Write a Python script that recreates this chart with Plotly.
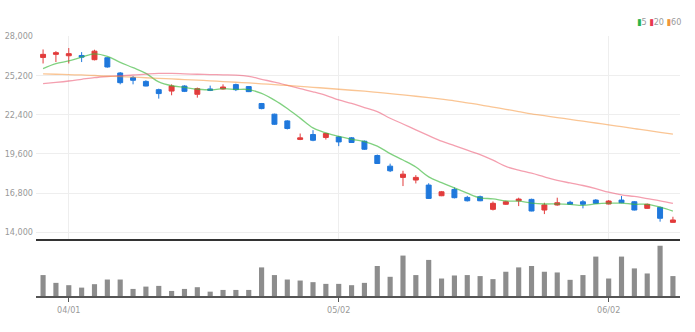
import plotly.graph_objects as go
from plotly.subplots import make_subplots

dates = [
    "2022-03-30", "2022-03-31",
    "2022-04-01", "2022-04-04", "2022-04-05", "2022-04-06", "2022-04-07", "2022-04-08",
    "2022-04-11", "2022-04-12", "2022-04-13", "2022-04-14", "2022-04-15",
    "2022-04-18", "2022-04-19", "2022-04-20", "2022-04-21", "2022-04-22",
    "2022-04-25", "2022-04-26", "2022-04-27", "2022-04-28", "2022-04-29",
    "2022-05-02", "2022-05-03", "2022-05-04", "2022-05-06",
    "2022-05-09", "2022-05-10", "2022-05-11", "2022-05-12", "2022-05-13",
    "2022-05-16", "2022-05-17", "2022-05-18", "2022-05-19", "2022-05-20",
    "2022-05-23", "2022-05-24", "2022-05-25", "2022-05-26", "2022-05-27",
    "2022-05-30", "2022-05-31",
    "2022-06-02", "2022-06-03", "2022-06-07", "2022-06-08", "2022-06-09", "2022-06-10",
]

open_ = [26480, 26700, 26600, 26620, 26320, 26460, 25370, 25040, 24770, 24180,
         24080, 24440, 23850, 24230, 24230, 24540, 24400, 23190, 22430, 21950,
         20630, 20980, 20770, 20810, 20740, 20500, 19480, 18720, 17920, 17730,
         17370, 16610, 17060, 16490, 16540, 15640, 16000, 16250, 16350, 15590,
         15950, 16140, 16180, 16300, 16020, 16300, 16180, 15710, 15780, 14710]
high = [27050, 26930, 27150, 26860, 27030, 26500, 25440, 25150, 24850, 24250,
        24560, 24490, 24330, 24470, 24560, 24610, 24430, 23230, 22470, 22000,
        21050, 21290, 21100, 20880, 20800, 20550, 19550, 18900, 18390, 18080,
        17500, 16950, 17200, 16600, 16620, 16200, 16250, 16470, 16400, 16110,
        16470, 16250, 16300, 16370, 16300, 16590, 16230, 16050, 15830, 15110]
low = [26050, 26150, 26050, 26150, 26270, 25750, 24560, 24560, 24420, 23540,
       23780, 24010, 23610, 24080, 24180, 24080, 24010, 22780, 21660, 21340,
       20580, 20500, 20620, 20150, 20380, 19880, 18880, 18300, 17300, 17490,
       16380, 16580, 16420, 16200, 16220, 15560, 15950, 15870, 15500, 15300,
       15900, 15950, 15710, 16020, 15990, 16080, 15560, 15680, 14760, 14690]
close = [26700, 26820, 26750, 26500, 26930, 25800, 24680, 24850, 24440, 23900,
         24440, 24060, 24250, 24130, 24370, 24180, 24040, 22830, 21710, 21410,
         20740, 20570, 21050, 20450, 20410, 19930, 18910, 18390, 18150, 17920,
         16420, 16890, 16470, 16250, 16250, 16070, 16180, 16370, 15520, 15950,
         16110, 16000, 16000, 16070, 16230, 16110, 15590, 16000, 15000, 14880]

ma5 = [25680, 26030, 26230, 26500, 26740, 26560, 26130, 25750, 25340, 24730,
       24460, 24340, 24220, 24160, 24250, 24200, 24190, 23910, 23430, 22830,
       22150, 21450, 21100, 20840, 20640, 20480, 20150, 19620, 19160, 18660,
       17960, 17550, 17170, 16790, 16460, 16390, 16240, 16220, 16080, 16020,
       16030, 15990, 15920, 16030, 16080, 16080, 16000, 16000, 15800, 15520]
ma20 = [24610, 24700, 24800, 24920, 25040, 25120, 25180, 25225, 25290, 25340,
        25340, 25310, 25280, 25260, 25240, 25220, 25130, 24920, 24720, 24490,
        24250, 24030, 23780, 23450, 23200, 22900, 22610, 22140, 21730, 21310,
        20900, 20500, 20180, 19860, 19550, 19150, 18700, 18440, 18220, 17960,
        17710, 17520, 17340, 17120, 16860, 16670, 16560, 16400, 16240, 16060]
ma60 = [25300, 25280, 25250, 25230, 25190, 25150, 25110, 25070, 25030, 24990,
        24950, 24900, 24860, 24810, 24760, 24710, 24660, 24600, 24540, 24480,
        24420, 24350, 24280, 24210, 24140, 24070, 23990, 23900, 23810, 23710,
        23610, 23500, 23380, 23240, 23100, 22940, 22780, 22620, 22460, 22320,
        22190, 22060, 21930, 21800, 21670, 21540, 21400, 21270, 21130, 21000]

volume = [1035, 650, 535, 415, 585, 815, 815, 350, 465, 500,
          250, 350, 435, 215, 300, 300, 300, 1415, 1035, 815,
          765, 685, 600, 600, 535, 650, 1485, 950, 2000, 1035,
          1785, 865, 1015, 1035, 985, 835, 1200, 1415, 1485, 1200,
          1165, 800, 1035, 1950, 865, 1950, 1365, 1115, 2485, 985]

tick_dates = ["2022-04-01", "2022-05-02", "2022-06-02"]
tick_text = ["04/01", "05/02", "06/02"]
price_ticks = [14000, 16800, 19600, 22400, 25200, 28000]
ma_names = ["5", "20", "60"]

RED = "#e23c3c"
BLUE = "#1f78dc"
FONT = "Liberation Sans Narrow, DejaVu Sans Condensed, Arial Narrow, sans-serif"

fig = make_subplots(rows=2, cols=1, shared_xaxes=True, vertical_spacing=0,
                    row_heights=[0.7796, 0.2204])

fig.add_trace(go.Candlestick(
    x=dates, open=open_, high=high, low=low, close=close,
    increasing=dict(line=dict(color=RED, width=1), fillcolor=RED),
    decreasing=dict(line=dict(color=BLUE, width=1), fillcolor=BLUE),
    whiskerwidth=0, showlegend=False, name="price"), row=1, col=1)

ma_colors = ["rgba(60,185,60,0.65)", "rgba(235,80,110,0.55)", "rgba(245,150,60,0.55)"]
for vals, col, nm in zip([ma5, ma20, ma60], ma_colors, ma_names):
    fig.add_trace(go.Scatter(x=dates, y=vals, mode="lines", name=nm,
                             line=dict(color=col, width=1.3, shape="spline"),
                             showlegend=False), row=1, col=1)

fig.add_trace(go.Bar(x=dates, y=volume, marker=dict(color="#8d8d8d", line=dict(width=0)),
                     width=0.4, showlegend=False, name="volume"), row=2, col=1)

fig.update_layout(
    width=695, height=332,
    margin=dict(l=36, r=15, t=36, b=36, autoexpand=False),
    paper_bgcolor="white", plot_bgcolor="white",
    font=dict(family=FONT, size=9, color="#999999"),
    boxgap=0.45,
    annotations=[dict(
        xref="paper", yref="paper", x=1.004, y=1.054, xanchor="right", yanchor="middle",
        showarrow=False, font=dict(family=FONT, size=9, color="#9a9a9a"),
        text=("<span style='color:#2bb34a'>▮</span>" + ma_names[0] +
              " <span style='color:#e8384f'>▮</span>" + ma_names[1] +
              " <span style='color:#f0953a'>▮</span>" + ma_names[2]))],
)

fig.update_xaxes(type="category", categoryorder="array", categoryarray=dates,
                 range=[-0.55, len(dates) - 0.45], automargin=False)
fig.update_xaxes(row=1, col=1, rangeslider_visible=False, showticklabels=False,
                 tickvals=tick_dates, showgrid=True, gridcolor="#eeeeee", gridwidth=1,
                 showline=True, linecolor="#333333", linewidth=2, ticks="")
fig.update_xaxes(row=2, col=1, tickvals=tick_dates, ticktext=tick_text, showgrid=False,
                 showline=True, linecolor="#555555", linewidth=2,
                 ticks="outside", ticklen=4, tickcolor="#555555", tickwidth=1,
                 tickfont=dict(size=9, color="#999999"))
fig.update_yaxes(row=1, col=1, range=[13544, 28010], tickvals=price_ticks,
                 tickformat=",d", showgrid=True, gridcolor="#eeeeee", gridwidth=1,
                 zeroline=False, showline=False, ticks="", ticklabelstandoff=2,
                 automargin=False, tickfont=dict(size=9, color="#999999"))
fig.update_yaxes(row=2, col=1, range=[0, 2835], showticklabels=False, showgrid=False,
                 zeroline=False, showline=False, automargin=False)

fig.write_html("out.html")
